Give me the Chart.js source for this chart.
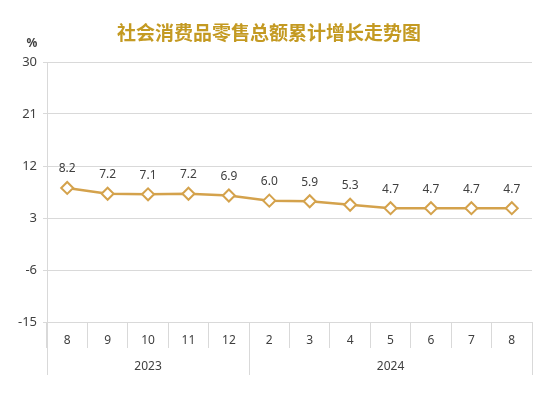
<!DOCTYPE html>
<html>
<head>
<meta charset="utf-8">
<script src="https://cdn.jsdelivr.net/npm/chart.js@4"></script>
<style>
  html, body { margin: 0; padding: 0; background: #fff; }
  #wrap { width: 549px; height: 394px; position: relative; }
</style>
</head>
<body>
<div id="wrap"><canvas id="chart"></canvas></div>
<script>
const titleText = '社会消费品零售总额累计增长走势图';
const unitLabel = '%';
const months = ['8', '9', '10', '11', '12', '2', '3', '4', '5', '6', '7', '8'];
const years = ['2023', '2024'];
const yearSpans = [5, 7];
const growth = [8.2, 7.2, 7.1, 7.2, 6.9, 6.0, 5.9, 5.3, 4.7, 4.7, 4.7, 4.7];
const yMin = -15;
const yMax = 30;
const yStep = 9;

const gold = '#D4A24C';
const textColor = '#404040';
const gridColor = '#d9d9d9';
const font = '"Noto Sans", "DejaVu Sans", sans-serif';

// title, unit, point labels and the year row
const decorations = {
  id: 'decorations',
  afterDraw(chart) {
    const { ctx, chartArea, scales } = chart;
    const x = scales.x;
    ctx.save();

    ctx.fillStyle = '#C49A22';
    ctx.font = 'bold 19px "Noto Sans CJK SC", sans-serif';
    ctx.textAlign = 'center';
    ctx.textBaseline = 'middle';
    ctx.fillText(titleText, 269, 33);

    ctx.fillStyle = textColor;
    ctx.font = 'bold 12px ' + font;
    ctx.fillText(unitLabel, 32, 44);

    ctx.font = '12px ' + font;
    const meta = chart.getDatasetMeta(0);
    meta.data.forEach((pt, i) => {
      ctx.fillText(growth[i].toFixed(1), pt.x, pt.y - 19);
    });

    // year row: dividers and labels
    const half = (x.getPixelForValue(1) - x.getPixelForValue(0)) / 2;
    const bottom = chartArea.bottom + 53;
    ctx.strokeStyle = gridColor;
    ctx.lineWidth = 1;
    let start = 0;
    const edges = [x.getPixelForValue(0) - half];
    years.forEach((yr, i) => {
      const end = start + yearSpans[i] - 1;
      const left = x.getPixelForValue(start) - half;
      const right = x.getPixelForValue(end) + half;
      edges.push(right);
      ctx.fillText(yr, (left + right) / 2, chartArea.bottom + 45);
      start = end + 1;
    });
    edges.forEach((ex) => {
      const px = Math.round(ex) + 0.5;
      ctx.beginPath();
      ctx.moveTo(px, chartArea.bottom);
      ctx.lineTo(px, bottom);
      ctx.stroke();
    });
    ctx.restore();
  }
};

new Chart(document.getElementById('chart'), {
  type: 'line',
  data: {
    labels: months,
    datasets: [
      {
        data: growth,
        borderColor: gold,
        borderWidth: 2.5,
        pointStyle: 'rectRot',
        pointRadius: 6,
        pointBorderWidth: 2,
        pointBackgroundColor: '#fff',
        pointBorderColor: gold,
        tension: 0
      }
    ]
  },
  options: {
    responsive: true,
    maintainAspectRatio: false,
    animation: false,
    layout: { padding: { top: 62, left: 0, right: 17, bottom: 0 } },
    plugins: {
      legend: { display: false },
      tooltip: { enabled: false }
    },
    scales: {
      x: {
        offset: true,
        afterFit(scale) { scale.height = 72; },
        grid: {
          offset: true,
          drawOnChartArea: false,
          tickLength: 26,
          color: gridColor
        },
        border: { color: gridColor },
        ticks: {
          color: textColor,
          font: { family: font, size: 12 },
          padding: -15
        }
      },
      y: {
        min: yMin,
        max: yMax,
        afterFit(scale) { scale.width = 47; },
        ticks: {
          stepSize: yStep,
          color: textColor,
          font: { family: font, size: 13 },
          padding: 6
        },
        grid: { color: gridColor, tickLength: 4 },
        border: { color: gridColor }
      }
    }
  },
  plugins: [decorations]
});
</script>
</body>
</html>
